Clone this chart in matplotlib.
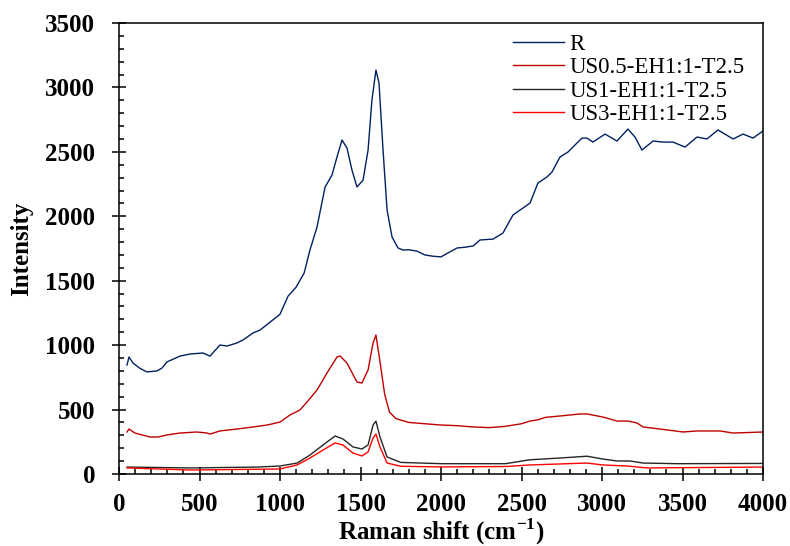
import matplotlib
matplotlib.use("Agg")
import matplotlib.pyplot as plt
from matplotlib.ticker import MultipleLocator

# Raman spectra (shift in cm-1, intensity in counts)
r_x = [50, 62, 87, 130, 174, 236, 267, 298, 379, 441, 522, 565, 627, 671, 733, 770,
       832, 876, 950, 1000, 1050, 1100, 1150, 1186, 1230, 1280, 1323, 1354, 1385, 1416,
       1447, 1478, 1516, 1547, 1571, 1596, 1615, 1640, 1665, 1696, 1733, 1764, 1800,
       1850, 1900, 1950, 2000, 2050, 2100, 2150, 2200, 2242, 2323, 2385, 2447, 2509,
       2553, 2602, 2658, 2689, 2739, 2789, 2832, 2876, 2907, 2944, 3019, 3093, 3161,
       3205, 3248, 3317, 3379, 3441, 3516, 3590, 3652, 3720, 3814, 3876, 3938, 4000]
r_y = [846, 908, 861, 820, 792, 800, 822, 870, 915, 931, 939, 915, 1001, 993, 1017, 1040,
       1094, 1117, 1190, 1240, 1380, 1450, 1560, 1738, 1917, 2227, 2320, 2460, 2592, 2530,
       2359, 2227, 2281, 2514, 2902, 3135, 3034, 2514, 2049, 1839, 1754, 1738, 1740,
       1730, 1700, 1690, 1685, 1720, 1754, 1760, 1770, 1816, 1823, 1870, 2010, 2064,
       2103, 2258, 2305, 2343, 2460, 2499, 2553, 2607, 2607, 2576, 2638, 2584, 2677,
       2615, 2514, 2584, 2576, 2576, 2537, 2615, 2600, 2670, 2600, 2638, 2607, 2662]

us05_x = [50, 62, 99, 193, 242, 298, 379, 484, 547, 565, 627, 733, 832, 919, 1000, 1062,
          1124, 1168, 1230, 1292, 1354, 1373, 1416, 1478, 1509, 1547, 1578, 1596, 1620,
          1650, 1680, 1720, 1800, 1900, 2000, 2100, 2200, 2300, 2400, 2500, 2550, 2600,
          2650, 2739, 2863, 2907, 3006, 3093, 3161, 3217, 3255, 3360, 3503, 3590, 3733,
          3814, 4000]
us05_y = [326, 349, 318, 287, 287, 303, 318, 326, 318, 310, 334, 349, 365, 380, 403, 458,
          497, 559, 652, 784, 908, 916, 861, 714, 706, 807, 1017, 1079, 880,
          620, 480, 430, 400, 390, 380, 375, 365, 360, 370, 390, 410, 420,
          440, 450, 466, 466, 442, 411, 411, 396, 365, 349, 326, 334, 334,
          318, 326]

us1_x = [50, 441, 857, 1000, 1106, 1186, 1267, 1342, 1391, 1453, 1509, 1547, 1578, 1596,
         1621, 1665, 1750, 2000, 2400, 2550, 2739, 2907, 3006, 3093, 3174, 3255, 3466, 4000]
us1_y = [54, 47, 54, 62, 85, 147, 225, 295, 272, 210, 194, 225, 380, 410,
         287, 132, 90, 80, 80, 110, 124, 138, 116, 101, 101, 85, 80, 82]

us3_x = [50, 441, 1000, 1106, 1186, 1267, 1342, 1391, 1453, 1509, 1547, 1578, 1596, 1621,
         1665, 1750, 2000, 2400, 2550, 2739, 2907, 3006, 3155, 3280, 4000]
us3_y = [47, 31, 39, 70, 124, 186, 241, 225, 163, 140, 171, 279, 310, 210,
         85, 60, 55, 58, 70, 78, 85, 70, 62, 47, 54]

plt.rcParams['font.family'] = ['Liberation Serif', 'DejaVu Serif']
plt.rcParams['mathtext.fontset'] = 'custom'
plt.rcParams['mathtext.bf'] = 'Liberation Serif:bold'

fig = plt.figure(figsize=(7.9, 5.46), dpi=100)
ax = fig.add_axes([119 / 790, 1 - 474 / 546, 644 / 790, 451 / 546])

ax.plot(r_x, r_y, color='#002060', lw=1.0, label='R')
ax.plot(us05_x, us05_y, color='#C00000', lw=1.0, label='US0.5-EH1:1-T2.5')
ax.plot(us1_x, us1_y, color='#262626', lw=1.0, label='US1-EH1:1-T2.5')
ax.plot(us3_x, us3_y, color='#FF0000', lw=1.0, label='US3-EH1:1-T2.5')

ax.set_xlim(0, 4000)
ax.set_ylim(0, 3500)
ax.xaxis.set_major_locator(MultipleLocator(500))
ax.xaxis.set_minor_locator(MultipleLocator(100))
ax.yaxis.set_major_locator(MultipleLocator(500))
ax.yaxis.set_minor_locator(MultipleLocator(100))
ax.tick_params(which='major', direction='inout', length=10, width=1.1,
               labelsize=18)
ax.tick_params(axis='x', which='major', pad=9)
ax.tick_params(axis='y', which='major', pad=12)
ax.tick_params(which='minor', direction='in', length=3.6, width=1.1)
ax.tick_params(top=False, right=False, which='both')
for lab in ax.get_xticklabels() + ax.get_yticklabels():
    lab.set_fontweight('bold')
for sp in ax.spines.values():
    sp.set_linewidth(1.1)

ax.set_xlabel('Raman shift (cm$^{\\mathbf{-1}}$)', fontsize=18, fontweight='bold', labelpad=0)
ax.set_ylabel('Intensity', fontsize=18, fontweight='bold', labelpad=9)

ax.legend(loc='upper left', bbox_to_anchor=(0.612, 0.976), frameon=False,
          fontsize=16.5, handlelength=2.2, handletextpad=0.25, labelspacing=0.1,
          borderpad=0, borderaxespad=0)

fig.savefig('out.png', dpi=100)
